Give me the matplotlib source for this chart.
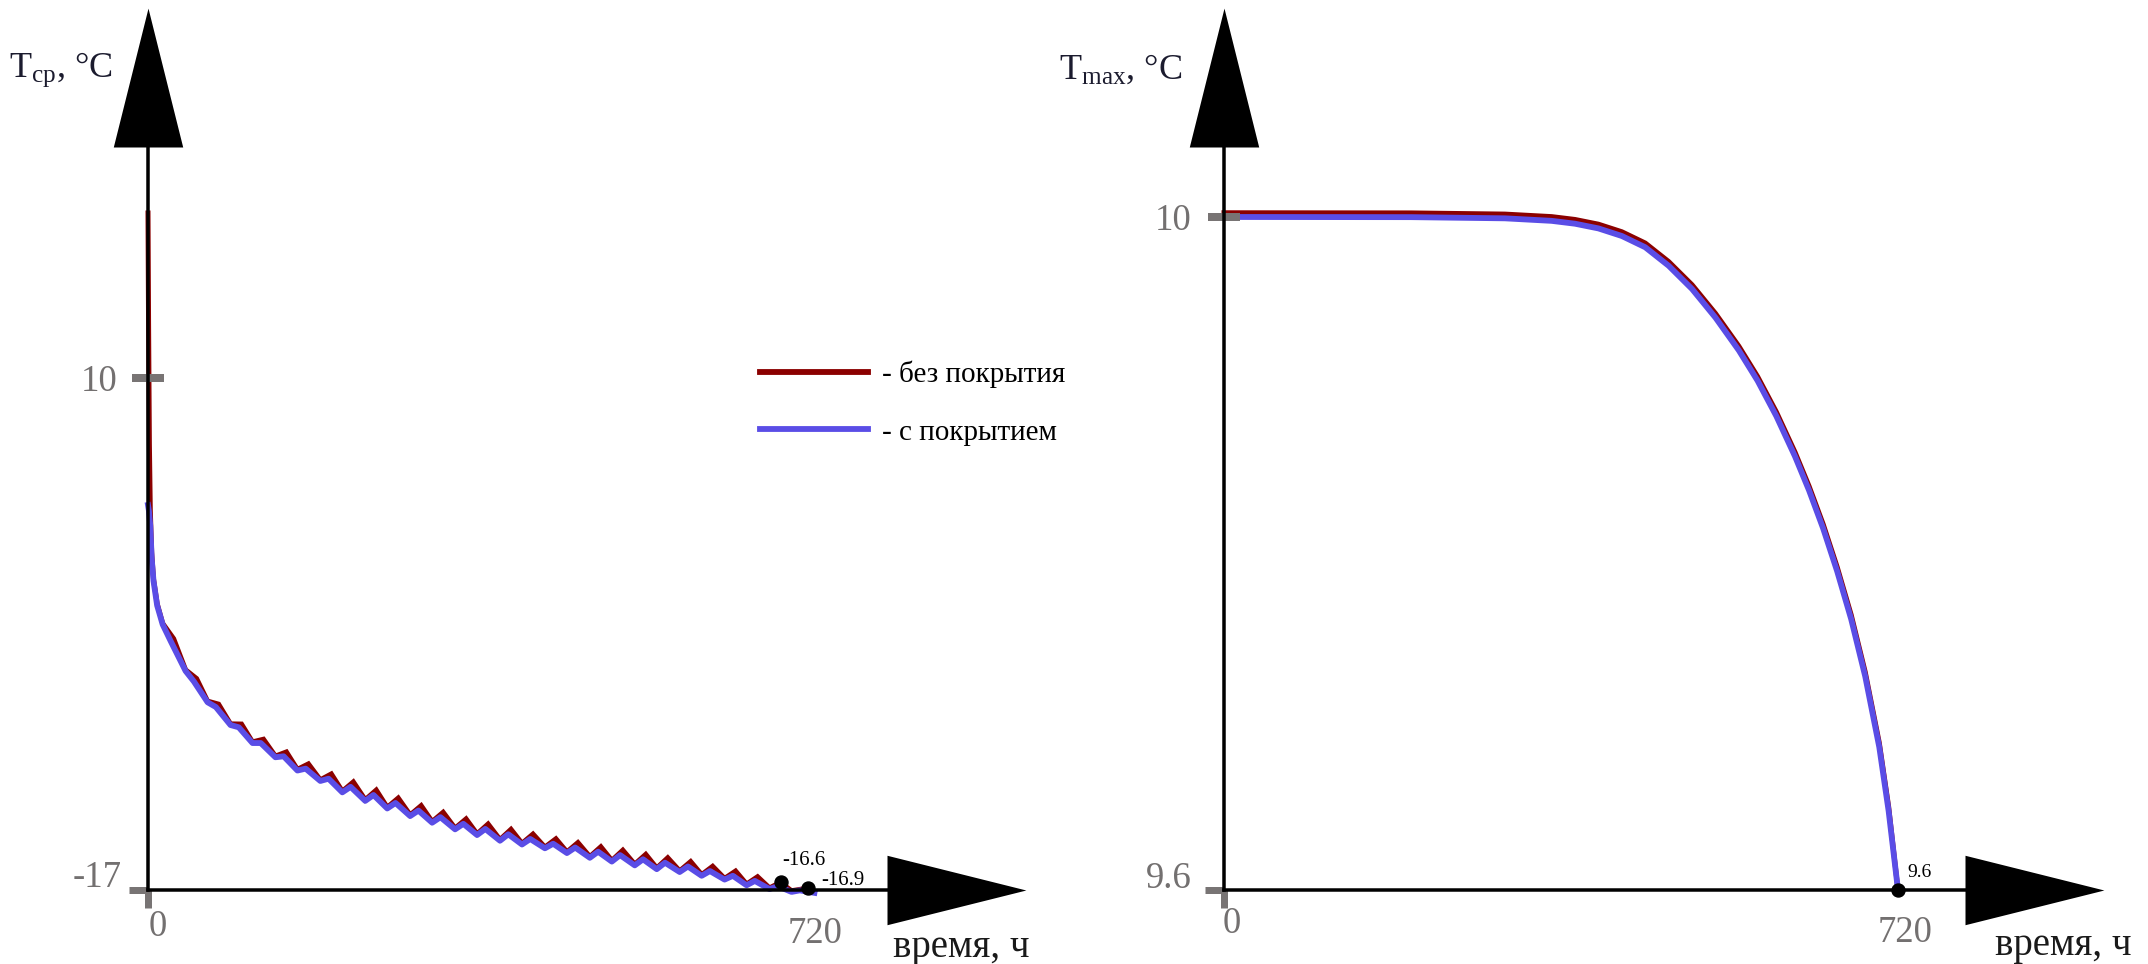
import matplotlib
matplotlib.use("Agg")
import matplotlib.pyplot as plt
from matplotlib import markers
from matplotlib.lines import Line2D

plt.rcParams.update({
    'font.family': ['Liberation Serif', 'DejaVu Serif'],
    'mathtext.fontset': 'custom',
    'mathtext.rm': 'Liberation Serif',
    'mathtext.it': 'Liberation Serif:italic',
})

# ------------------------------------------------------------------ #
# mean temperature, daily cycle (hours / deg C)
start_t_red = [0, 0.6, 1.5, 2.5, 4, 6, 10]
start_red = [18.7, 13.0, 6.5, 3.0, 0.8, -0.6, -1.9]
start_t_blue = [0, 1, 2.5, 4, 6, 10]
start_blue = [3.3, 3.0, 2.2, 0.5, -0.7, -2.0]

trough_t = [16, 41, 65, 90, 114, 139, 163, 188, 212, 237, 261, 286, 310, 335, 359,
            384, 408, 433, 457, 482, 506, 531, 555, 580, 604, 629, 653, 678, 702, 727]
red_trough = [-2.94, -5.39, -7.04, -8.24, -9.19, -9.94, -10.64, -11.19, -11.79, -12.24,
              -12.64, -13.04, -13.39, -13.74, -14.04, -14.34, -14.54, -14.74, -14.99, -15.24,
              -15.44, -15.64, -15.84, -15.99, -16.19, -16.39, -16.69, -16.89, -17.04, -17.09]
blue_trough = [-3.0, -5.45, -7.1, -8.3, -9.25, -10.0, -10.7, -11.25, -11.85, -12.3,
               -12.7, -13.1, -13.45, -13.8, -14.1, -14.4, -14.6, -14.8, -15.05, -15.3,
               -15.5, -15.7, -15.9, -16.05, -16.25, -16.45, -16.75, -16.95, -17.1, -17.15]

red_peak_t = [28, 53, 77, 102, 126, 151, 175, 200, 224, 249, 273, 298, 322, 347, 371,
              396, 420, 445, 469, 494, 518, 543, 567, 592, 616, 641, 665, 690, 720]
red_peak = [-3.75, -5.85, -7.2, -8.25, -9.05, -9.72, -10.35, -10.88, -11.3, -11.73,
            -12.15, -12.55, -12.9, -13.25, -13.52, -13.8, -14.05, -14.3, -14.5, -14.72,
            -14.9, -15.12, -15.3, -15.5, -15.75, -16.0, -16.3, -16.6, -16.9]

blue_bump_t = [25, 50, 74, 99, 123, 148, 172, 197, 221, 246, 270, 295, 319, 344, 368,
               393, 417, 442, 466, 491, 515, 540, 564, 589, 613, 638, 662, 687, 711]
blue_bump = [-3.9, -6.0, -7.35, -8.42, -9.25, -9.95, -10.6, -11.13, -11.56, -11.99,
             -12.41, -12.81, -13.16, -13.51, -13.78, -14.06, -14.31, -14.56, -14.76, -14.98,
             -15.16, -15.38, -15.56, -15.76, -16.0, -16.25, -16.52, -16.8, -17.02]

marked_t = [690, 720]
marked_val = [-16.6, -16.9]

# maximum temperature
t_max = [0, 200, 300, 350, 375, 400, 425, 450, 475, 500, 525, 550, 570, 590, 610,
         625, 640, 655, 670, 685, 700, 710, 720]
red_max = [10.0025, 10.0024, 10.0017, 10.0002, 9.9985, 9.9957, 9.9912, 9.9845, 9.9735,
           9.9597, 9.9427, 9.9232, 9.9052, 9.8842, 9.8602, 9.84, 9.8175, 9.792, 9.7635,
           9.7295, 9.6875, 9.6495, 9.6]
blue_max = [10.0, 9.9999, 9.9992, 9.9977, 9.996, 9.9932, 9.9887, 9.982, 9.971,
            9.9572, 9.9402, 9.9207, 9.9027, 9.8817, 9.8577, 9.8375, 9.815, 9.7895, 9.761,
            9.727, 9.685, 9.647, 9.6]
end_max = 9.6

labels = ['- без покрытия', '- с покрытием']

# ------------------------------------------------------------------ #
W, H, DPI = 2148, 964, 100
RED = '#8b0000'
BLUE = '#5a4de6'
GREY = '#787474'
TXT_GREY = '#737070'
INK = '#1b1b2e'

UP = [(-0.25, 0), (0.25, 0), (0, 1), (-0.25, 0)]
RIGHT = [(0, -0.25), (0, 0.25), (1, 0), (0, -0.25)]


def pt(p):
    """pixels -> points"""
    return p * 72.0 / DPI


def axes_px(fig, left, right, top, bottom):
    return fig.add_axes([left / W, 1 - bottom / H, (right - left) / W, (bottom - top) / H])


def merge(*pairs):
    pts = sorted(zip(sum([list(p[0]) for p in pairs], []), sum([list(p[1]) for p in pairs], [])))
    return [p[0] for p in pts], [p[1] for p in pts]


def frame(ax, xlim, ylim, x_end, y_end, y0):
    """Arrowed axes crossing at (0, y0)."""
    ax.set_xlim(xlim)
    ax.set_ylim(ylim)
    ax.set_xticks([])
    ax.set_yticks([])
    ax.patch.set_visible(False)
    for s in ['top', 'right']:
        ax.spines[s].set_visible(False)
    for s in ['left', 'bottom']:
        ax.spines[s].set_linewidth(pt(3.5))
        ax.spines[s].set_color('black')
        ax.spines[s].set_zorder(4)
    ax.spines['left'].set_bounds(y0, y_end)
    ax.spines['bottom'].set_bounds(0, x_end)
    ax.plot([0], [y_end], marker=UP, ms=200, mew=0, color='black', clip_on=False, zorder=5)
    ax.plot([x_end], [y0], marker=RIGHT, ms=200, mew=0, color='black', clip_on=False, zorder=5)
    # origin ticks
    ax.plot([0], [y0], marker=markers.TICKLEFT, ms=pt(19), mew=pt(7), color=GREY,
            clip_on=False, zorder=3.5)
    ax.plot([0], [y0], marker=markers.TICKDOWN, ms=pt(18), mew=pt(7), color=GREY,
            clip_on=False, zorder=3.5)


def note(ax, s, xy, dx, dy, size, color, ha='left', coords='data'):
    ax.annotate(s, xy=xy, xycoords=coords, xytext=(pt(dx), pt(dy)), textcoords='offset points',
                ha=ha, va='baseline', fontsize=size, color=color, annotation_clip=False)


fig = plt.figure(figsize=(W / DPI, H / DPI), dpi=DPI)

# ------------------------------------------------------------------ #
# left: mean temperature
ax1 = axes_px(fig, 148, 1027, 8, 890)
frame(ax1, (0, 958.9), (-17, 29.51), 806.2, 22.18, -17)

rt, rv = merge((start_t_red, start_red), (trough_t, red_trough), (red_peak_t, red_peak))
bt, bv = merge((start_t_blue, start_blue), (trough_t, blue_trough), (blue_bump_t, blue_bump))
ax1.plot(rt, rv, color=RED, lw=3.6, clip_on=False, zorder=3, solid_joinstyle='miter',
         label=labels[0])
ax1.plot(bt, bv, color=BLUE, lw=4.2, clip_on=False, zorder=3.2, label=labels[1])
ax1.plot(marked_t, marked_val, 'o', color='black', ms=pt(13), clip_on=False, zorder=6)

ax1.plot([0], [10], marker='_', ms=pt(32), mew=pt(8), color=GREY, clip_on=False, zorder=3.5)
note(ax1, '10', (0, 10), -30, -13, 26.5, TXT_GREY, ha='right')
note(ax1, '-17', (0, -17), -26, 3, 26.5, TXT_GREY, ha='right')
note(ax1, '0', (0, -17), 10, -46, 26.5, TXT_GREY, ha='center')
note(ax1, '720', (720, -17), 7, -53, 26.5, TXT_GREY, ha='center')
note(ax1, 'время, ч', (720, -17), 85, -67, 28, '#1a1a1a')
note(ax1, r'T$_{\mathrm{ср}}$, °C', (0, 1), -35, -69, 26, INK, ha='right', coords='axes fraction')
note(ax1, '%g' % marked_val[0], (marked_t[0], marked_val[0]), 2, 17, 15, 'black')
note(ax1, '%g' % marked_val[1], (marked_t[1], marked_val[1]), 13, 3, 15, 'black')

handles = [Line2D([], [], color=RED, lw=4.2), Line2D([], [], color=BLUE, lw=4.2)]
fs_leg = 21
ax1.legend(handles, labels, loc='upper left', bbox_to_anchor=(760 / W, 1 - 361 / H),
           bbox_transform=fig.transFigure, frameon=False, fontsize=fs_leg,
           borderpad=0, borderaxespad=0, handlelength=108 / (fs_leg / 0.72),
           handletextpad=14 / (fs_leg / 0.72), labelspacing=1.05)

# ------------------------------------------------------------------ #
# right: maximum temperature
ax2 = axes_px(fig, 1224, 2103, 8, 890)
frame(ax2, (0, 939.0), (9.6, 10.1242), 791.6, 10.0416, 9.6)

ax2.plot(t_max, red_max, color=RED, lw=3.6, clip_on=False, zorder=3)
ax2.plot(t_max, blue_max, color=BLUE, lw=4.2, clip_on=False, zorder=3.2)
ax2.plot([t_max[-1]], [end_max], 'o', color='black', ms=pt(13), clip_on=False, zorder=6)

ax2.plot([0], [10], marker='_', ms=pt(32), mew=pt(8), color=GREY, clip_on=False, zorder=3.5)
note(ax2, '10', (0, 10), -32, -13, 26.5, TXT_GREY, ha='right')
note(ax2, '9.6', (0, 9.6), -32, 2, 26.5, TXT_GREY, ha='right')
note(ax2, '0', (0, 9.6), 8, -43, 26.5, TXT_GREY, ha='center')
note(ax2, '720', (720, 9.6), 7, -52, 26.5, TXT_GREY, ha='center')
note(ax2, 'время, ч', (720, 9.6), 97, -65, 28, '#1a1a1a')
note(ax2, r'T$_{\mathrm{max}}$, °C', (0, 1), -42, -71, 26, INK, ha='right', coords='axes fraction')
note(ax2, '%g' % end_max, (t_max[-1], end_max), 9, 13, 14, 'black')

fig.savefig('out.png', dpi=DPI)
